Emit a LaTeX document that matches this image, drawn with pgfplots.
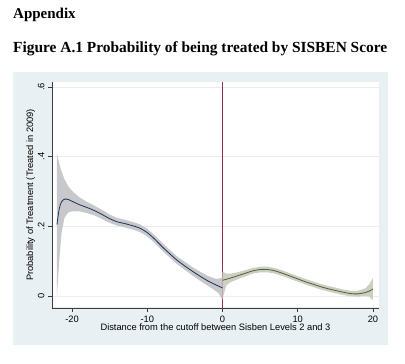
\documentclass[border=0pt]{standalone}
\usepackage{pgfplots}
\pgfplotsset{compat=1.18}
\usepackage{pgfplotstable}
\usepackage{fontspec}
\setmainfont{Liberation Sans}
\newfontfamily\serifb{Liberation Serif}
\definecolor{grbg}{RGB}{233,240,243}
\definecolor{gridc}{RGB}{232,238,240}
\definecolor{navyc}{RGB}{30,48,80}
\definecolor{bandl}{RGB}{198,200,204}
\definecolor{greenc}{RGB}{72,98,58}
\definecolor{bandr}{RGB}{204,207,193}
\definecolor{xlinec}{RGB}{150,40,100}
\definecolor{axc}{RGB}{60,60,60}

% fitted curves
\pgfplotstableread{
x y
-22.0 0.205
-21.7 0.250
-21.4 0.270
-21.0 0.278
-20.5 0.277
-20.0 0.272
-19.0 0.262
-18.0 0.254
-17.0 0.245
-16.0 0.234
-15.0 0.222
-14.0 0.213
-13.0 0.208
-12.0 0.202
-11.0 0.195
-10.0 0.182
-9.0 0.163
-8.0 0.141
-7.0 0.121
-6.0 0.102
-5.0 0.086
-4.0 0.071
-3.0 0.057
-2.0 0.044
-1.0 0.033
-0.5 0.028
0.0 0.023
}\leftfit

\pgfplotstableread{
x y
0.0 0.045
0.5 0.048
1.0 0.051
2.0 0.058
3.0 0.065
4.0 0.072
5.0 0.076
6.0 0.076
7.0 0.072
8.0 0.065
9.0 0.057
10.0 0.049
11.0 0.041
12.0 0.034
13.0 0.027
14.0 0.021
15.0 0.016
16.0 0.011
17.0 0.007
18.0 0.006
19.0 0.010
19.5 0.014
20.0 0.020
}\rightfit

% confidence bands: upper bound left to right, then lower bound right to left
\pgfplotstableread{
x y
-22.0 0.410
-21.7 0.380
-21.4 0.358
-21.0 0.335
-20.5 0.315
-20.0 0.302
-19.0 0.283
-18.0 0.270
-17.0 0.259
-16.0 0.247
-15.0 0.234
-14.0 0.224
-13.0 0.219
-12.0 0.213
-11.0 0.206
-10.0 0.193
-9.0 0.174
-8.0 0.152
-7.0 0.132
-6.0 0.113
-5.0 0.098
-4.0 0.083
-3.0 0.070
-2.0 0.058
-1.0 0.050
-0.5 0.050
0.0 0.052
0.0 -0.012
-0.5 0.007
-1.0 0.016
-2.0 0.030
-3.0 0.044
-4.0 0.059
-5.0 0.075
-6.0 0.091
-7.0 0.110
-8.0 0.130
-9.0 0.152
-10.0 0.171
-11.0 0.184
-12.0 0.191
-13.0 0.197
-14.0 0.202
-15.0 0.210
-16.0 0.221
-17.0 0.231
-18.0 0.238
-19.0 0.243
-20.0 0.243
-20.5 0.240
-21.0 0.225
-21.4 0.180
-21.7 0.100
-22.0 0.000
}\leftband

\pgfplotstableread{
x y
0.0 0.070
0.5 0.064
1.0 0.064
2.0 0.068
3.0 0.074
4.0 0.080
5.0 0.084
6.0 0.084
7.0 0.080
8.0 0.073
9.0 0.065
10.0 0.057
11.0 0.049
12.0 0.042
13.0 0.035
14.0 0.029
15.0 0.024
16.0 0.019
17.0 0.015
18.0 0.015
19.0 0.022
19.5 0.033
20.0 0.052
20.0 -0.012
19.5 -0.002
19.0 0.000
18.0 -0.002
17.0 -0.001
16.0 0.003
15.0 0.008
14.0 0.013
13.0 0.019
12.0 0.026
11.0 0.033
10.0 0.041
9.0 0.049
8.0 0.057
7.0 0.064
6.0 0.068
5.0 0.068
4.0 0.064
3.0 0.056
2.0 0.048
1.0 0.039
0.5 0.030
0.0 -0.008
}\rightband

\begin{document}
\begin{tikzpicture}
\path[use as bounding box, fill=white] (0pt,0pt) rectangle (405pt,364pt);
\node[anchor=base west, inner sep=0pt, font=\serifb\bfseries\fontsize{15}{15}\selectfont] at (13pt,345pt) {Appendix};
\node[anchor=base west, inner sep=0pt, font=\serifb\bfseries\fontsize{15.4}{15.4}\selectfont] at (13pt,311pt) {Figure A.1 Probability of being treated by SISBEN Score};
\fill[grbg] (13pt,19pt) rectangle (388pt,292pt);
\filldraw[fill=white, draw=gridc, line width=1pt] (52pt,56pt) rectangle (379pt,282pt);
\begin{axis}[
  at={(52pt,56pt)}, anchor=south west,
  scale only axis, width=327pt, height=226pt,
  xmin=-22.66, xmax=20.8, ymin=-0.0345, ymax=0.6144,
  axis x line*=bottom, axis y line*=left,
  axis line style={axc, line width=0.5pt},
  xtick={-20,-10,0,10,20},
  ytick={0,0.2,0.4,0.6}, yticklabels={0,.2,.4,.6},
  tick align=outside, major tick length=4pt,
  tick style={axc, line width=0.5pt},
  xtick pos=left, ytick pos=left,
  ymajorgrids, major grid style={gridc, line width=0.8pt},
  /pgf/number format/assume math mode=true,
  ticklabel style={font=\fontsize{9.3}{9.3}\selectfont},
  yticklabel style={rotate=90, anchor=south},
  label style={font=\fontsize{9.3}{9.3}\selectfont},
  xlabel={Distance from the cutoff between Sisben Levels 2 and 3},
  ylabel={Probability of Treatment (Treated in 2009)},
  xlabel style={yshift=5pt},
  ylabel style={yshift=-4pt},
]
\addplot[xlinec, line width=0.7pt] coordinates {(0,-0.0345) (0,0.6144)};
\addplot[fill=bandl, draw=none] table[x=x,y=y] {\leftband} -- cycle;
\addplot[fill=bandr, draw=none] table[x=x,y=y] {\rightband} -- cycle;
\addplot[navyc, line width=0.8pt, smooth] table[x=x,y=y] {\leftfit};
\addplot[greenc, line width=0.8pt, smooth] table[x=x,y=y] {\rightfit};
\end{axis}
\end{tikzpicture}
\end{document}
